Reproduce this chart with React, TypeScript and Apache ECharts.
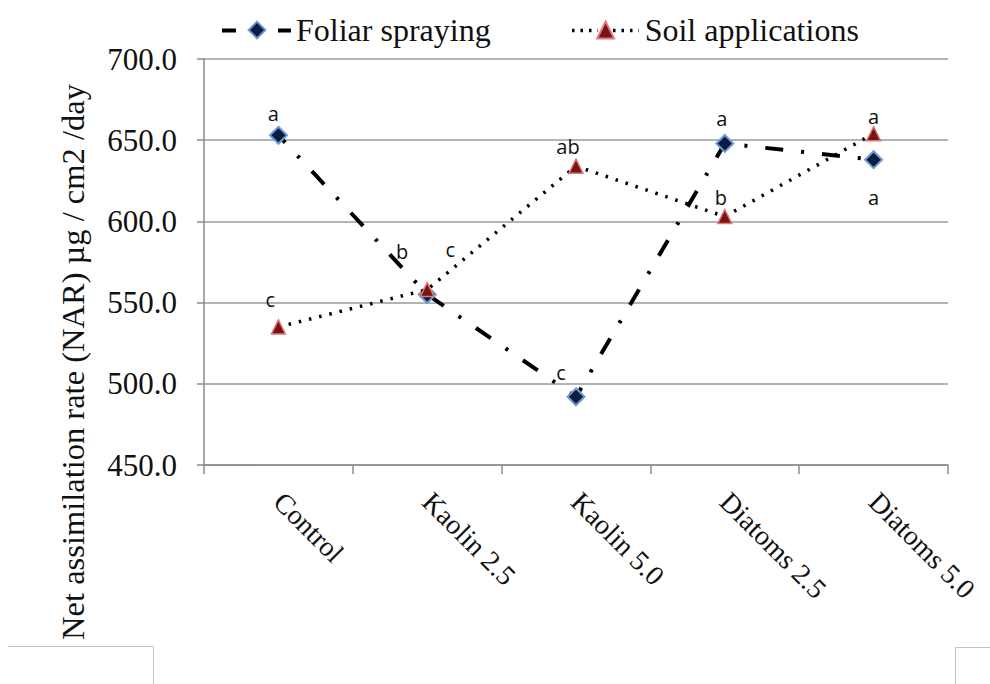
import React, { useEffect, useRef } from "react";
import * as echarts from "echarts";

const categories = ["Control", "Kaolin 2.5", "Kaolin 5.0", "Diatoms 2.5", "Diatoms 5.0"];
const foliarValues = [653, 555, 492, 648, 638];
const soilValues = [535, 558, 634, 603, 654];
const foliarLetters = ["a", "b", "c", "a", "a"];
const soilLetters = ["c", "c", "ab", "b", "a"];
const yTicks = { min: 450, max: 700, interval: 50 };
const yTitle = "Net assimilation rate (NAR) µg / cm2 /day";

// label placement (style, not data)
const foliarLabelOffsets = [[-5, -22], [-25, -43], [-15, -24], [-3, -25], [0, 38]];
const soilLabelOffsets = [[-8, -27], [23, -40], [-8, -20], [-4, -19], [0, -17]];

const SERIF = "'Liberation Serif', 'Times New Roman', serif";
const SANS = "'Open Sans', 'Noto Sans', sans-serif";

export default function App() {
  const ref = useRef<HTMLDivElement>(null);
  useEffect(() => {
    if (!ref.current) return;
    const chart = echarts.init(ref.current, undefined, { renderer: "svg" });
    const letterLabel = {
      show: true,
      position: "inside",
      fontFamily: SANS,
      fontSize: 20,
      color: "#111",
    };
    const legendLine = (x1: number, x2: number, dash: number[] | string, w: number) => ({
      type: "line",
      shape: { x1, y1: 30.5, x2, y2: 30.5 },
      style: { stroke: "#000", lineWidth: w, lineDash: dash },
      z: 100,
    });
    chart.setOption({
      animation: false,
      backgroundColor: "#fff",
      grid: {
        left: 204,
        right: 42,
        top: 59,
        bottom: 219,
        containLabel: false,
        outerBoundsMode: "none",
      },
      legend: {
        left: 217,
        top: 9,
        itemWidth: 68,
        itemHeight: 21,
        itemGap: 80,
        textStyle: { fontFamily: SERIF, fontSize: 32, color: "#111" },
        data: [
          { name: "Foliar spraying", lineStyle: { opacity: 0 } },
          { name: "Soil applications", lineStyle: { opacity: 0 } },
        ],
      },
      xAxis: {
        type: "category",
        data: categories,
        boundaryGap: true,
        axisLine: { lineStyle: { color: "#8c8c8c", width: 1.5 } },
        axisTick: { show: true, length: 9, lineStyle: { color: "#8c8c8c", width: 1.5 } },
        axisLabel: {
          rotate: -45,
          margin: 32,
          fontFamily: SERIF,
          fontSize: 28,
          color: "#111",
          interval: 0,
        },
      },
      yAxis: {
        type: "value",
        min: yTicks.min,
        max: yTicks.max,
        interval: yTicks.interval,
        axisLine: { show: true, lineStyle: { color: "#8c8c8c", width: 1.5 } },
        axisTick: { show: true, length: 7, lineStyle: { color: "#8c8c8c", width: 1.5 } },
        splitLine: { show: true, lineStyle: { color: "#9a9a9a", width: 1.5 } },
        axisLabel: {
          margin: 27,
          fontFamily: SERIF,
          fontSize: 31,
          color: "#111",
          formatter: (v: number) => v.toFixed(1),
        },
      },
      graphic: [
        {
          type: "text",
          x: 73,
          y: 362,
          rotation: Math.PI / 2,
          style: {
            text: yTitle,
            fontFamily: SERIF,
            fontSize: 32.5,
            fill: "#111",
            align: "center",
            verticalAlign: "middle",
          },
        },
        legendLine(222, 236, "solid", 4),
        legendLine(278, 291, "solid", 4),
        legendLine(572, 598, [2.5, 6], 3.5),
        legendLine(613, 639, [2.5, 6], 3.5),
        { type: "line", shape: { x1: 8, y1: 646.5, x2: 153.5, y2: 646.5 }, style: { stroke: "#c4c4c4", lineWidth: 1 } },
        { type: "line", shape: { x1: 153.5, y1: 646.5, x2: 153.5, y2: 684 }, style: { stroke: "#c4c4c4", lineWidth: 1 } },
        { type: "line", shape: { x1: 955.5, y1: 647.5, x2: 990, y2: 647.5 }, style: { stroke: "#c4c4c4", lineWidth: 1 } },
        { type: "line", shape: { x1: 955.5, y1: 647.5, x2: 955.5, y2: 684 }, style: { stroke: "#c4c4c4", lineWidth: 1 } },
      ],
      series: [
        {
          name: "Foliar spraying",
          type: "line",
          data: foliarValues.map((v, i) => ({ value: v, label: { offset: foliarLabelOffsets[i] } })),
          symbol: "diamond",
          symbolSize: 17,
          itemStyle: { color: "#0c1c40", borderColor: "#6b9bd6", borderWidth: 2 },
          lineStyle: { color: "#000", width: 4, type: [18, 18, 3, 18], cap: "butt", dashOffset: 8 },
          label: { ...letterLabel, formatter: (p: any) => foliarLetters[p.dataIndex] },
          z: 2,
        },
        {
          name: "Soil applications",
          type: "line",
          data: soilValues.map((v, i) => ({ value: v, label: { offset: soilLabelOffsets[i] } })),
          symbol: "triangle",
          symbolSize: 14,
          itemStyle: { color: "#7a1414", borderColor: "#e07878", borderWidth: 1.5 },
          lineStyle: { color: "#000", width: 3.5, type: [2.5, 8], cap: "butt" },
          label: { ...letterLabel, formatter: (p: any) => soilLetters[p.dataIndex] },
          z: 3,
        },
      ],
    });
    return () => chart.dispose();
  }, []);
  return (
    <div
      ref={ref}
      style={{ position: "absolute", left: 0, top: 0, width: 990, height: 684, background: "#fff" }}
    />
  );
}
